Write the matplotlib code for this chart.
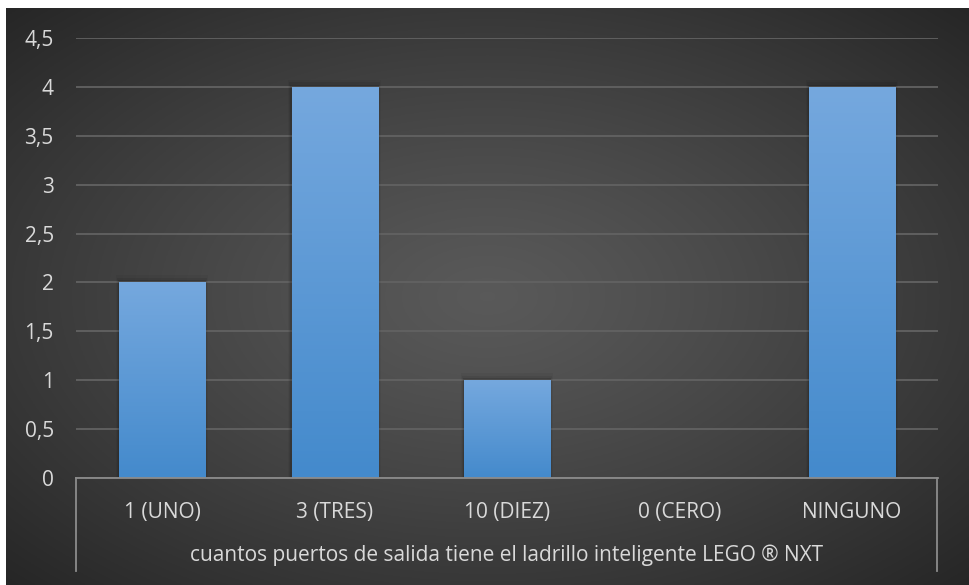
import numpy as np
import matplotlib.pyplot as plt
from matplotlib.lines import Line2D
from matplotlib.ticker import FuncFormatter

plt.rcParams['font.family'] = ['Open Sans', 'DejaVu Sans']

categorias = ['1 (UNO)', '3 (TRES)', '10 (DIEZ)', '0 (CERO)', 'NINGUNO']
valores = [2, 4, 1, 0, 4]
titulo_eje = 'cuantos puertos de salida tiene el ladrillo inteligente LEGO ® NXT'

W, H = 969, 585
fig = plt.figure(figsize=(W / 100, H / 100), dpi=100)
fig.patch.set_facecolor('white')

# fondo oscuro con degradado radial
bg = fig.add_axes([6 / W, 0, 963 / W, 577 / H])
bg.axis('off')
yy, xx = np.mgrid[-1:1:300j, -1:1:500j]
r = np.clip(np.sqrt(xx ** 2 + yy ** 2) / np.sqrt(2), 0, 1)
centro, borde = 0.35, 0.15
g = centro + (borde - centro) * r ** 1.2
bg.imshow(np.dstack([g, g, g]), aspect='auto', extent=[0, 1, 0, 1])
bg.set_xlim(0, 1)
bg.set_ylim(0, 1)

ax = fig.add_axes([76 / W, 107 / H, 862 / W, 440 / H])
ax.set_facecolor('none')
x = np.arange(len(categorias))
barras = ax.bar(x, valores, width=0.5, color='#5B9BD5', zorder=3)

# degradado vertical en cada barra
grad = np.linspace(0, 1, 100)[:, None]
top = np.array([117, 168, 222]) / 255
bot = np.array([68, 138, 204]) / 255
img = top[None, None, :] * (1 - grad[..., None]) + bot[None, None, :] * grad[..., None]
for b in barras:
    if b.get_height() <= 0:
        continue
    # sombra suave
    for k, a in enumerate([0.10, 0.07, 0.04]):
        d = 0.012 * (k + 1)
        ax.add_patch(plt.Rectangle((b.get_x() - d * 0.5, 0), b.get_width() + d,
                                   b.get_height() + d * 2, color='black', alpha=a,
                                   lw=0, zorder=2))
    im = ax.imshow(img, aspect='auto', zorder=4,
                   extent=[b.get_x(), b.get_x() + b.get_width(), 0, b.get_height()])
    im.set_clip_path(b)

ax.set_xlim(-0.5, len(categorias) - 0.5)
ax.set_ylim(0, 4.5)
ax.set_yticks(np.arange(0, 4.51, 0.5))
ax.yaxis.set_major_formatter(FuncFormatter(lambda v, p: ('%g' % v).replace('.', ',')))
ax.grid(axis='y', color='#626262', lw=1.3, zorder=0)
ax.set_axisbelow(True)
for s in ax.spines.values():
    s.set_visible(False)
ax.set_xticks(x)
ax.set_xticklabels(categorias)
ax.tick_params(axis='y', length=0, pad=16, labelsize=15, labelcolor='#D9D9D9')
ax.tick_params(axis='x', length=0, pad=17, labelsize=15, labelcolor='#D9D9D9')

# caja del eje de categorias
c = '#8C8C8C'
fig.add_artist(Line2D([76 / W, 938 / W], [107 / H, 107 / H], color=c, lw=1.3))
fig.add_artist(Line2D([76 / W, 76 / W], [107 / H, 14 / H], color=c, lw=1.3))
fig.add_artist(Line2D([937 / W, 937 / W], [107 / H, 14 / H], color=c, lw=1.3))

fig.text(507 / W, (H - 555) / H, titulo_eje, ha='center', va='center',
         fontsize=15, color='#D9D9D9')

fig.savefig('out.png', dpi=100)
